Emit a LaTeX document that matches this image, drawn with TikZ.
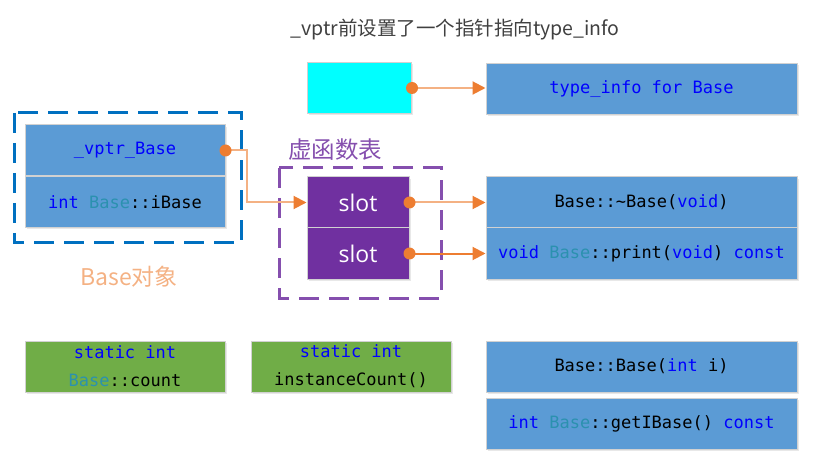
\documentclass[tikz,border=0pt]{standalone}
\usepackage{fontspec}
\setmainfont{Open Sans}
\setmonofont{DejaVu Sans Mono}
\newfontfamily\cjk{Noto Sans CJK SC}
\usetikzlibrary{arrows.meta}
\usetikzlibrary{shadows}

\definecolor{boxblue}{HTML}{5B9BD5}
\definecolor{boxgreen}{HTML}{70AD47}
\definecolor{boxcyan}{HTML}{00FFFF}
\definecolor{slotpurple}{HTML}{7030A0}
\definecolor{linkorange}{HTML}{ED7D31}
\definecolor{linkpeach}{HTML}{F4B183}
\definecolor{kwblue}{HTML}{0000FF}
\definecolor{clsteal}{HTML}{2B91AF}
\definecolor{frameblue}{HTML}{0070C0}

\newcommand{\kwd}[1]{\textcolor{kwblue}{#1}}
\newcommand{\clsname}[1]{\textcolor{clsteal}{#1}}

\begin{document}
\begin{tikzpicture}[x=1pt,y=-1pt]
	\tikzstyle{field} = [draw=black!18,line width=1pt,fill=boxblue,minimum width=200pt,minimum height=51pt,inner sep=0pt,align=center,font=\ttfamily\fontsize{17}{28}\selectfont,drop shadow={shadow xshift=1.5pt,shadow yshift=-2pt,opacity=0.18}]
	\tikzstyle{wide} = [field,minimum width=311pt]
	\tikzstyle{member} = [field,fill=boxgreen]
	\tikzstyle{slotbox} = [field,fill=slotpurple,minimum width=102pt,text=white,font=\fontsize{23}{28}\selectfont]
	\tikzstyle{link} = [line width=2pt,draw=linkpeach,-{Triangle[length=13pt,width=13pt,color=linkorange]}]
	\tikzstyle{dot} = [fill=linkorange]

	\useasboundingbox (0,0) rectangle (813,462);

	\node[text=black!75,font=\cjk\fontsize{19.5}{22}\selectfont] at (455,30) (title) {\_vptr前设置了一个指针指向type\_info};

	% type_info
	\node[field,fill=boxcyan,minimum width=104pt] at (359.5,88) (rtti) {};
	\node[wide] at (641.5,89) (typeinfo) {\kwd{type\_info for Base}};

	% Base object
	\node[field] at (125,150.5) (vptr) {\kwd{\_vptr\_Base}};
	\node[field] at (125,202) (ibase) {\kwd{int} \clsname{Base}::iBase};
	\draw[frameblue,line width=3pt,dash pattern=on 20pt off 10pt] (14,113) rectangle (241,243);
	\node[text=linkpeach,font=\cjk\fontsize{23}{24}\selectfont] at (129,277) (objlabel) {Base对象};

	% vtable
	\node[text=slotpurple!85,font=\cjk\fontsize{23.5}{24}\selectfont] at (335,150) (vtlabel) {虚函数表};
	\node[slotbox] at (358,202.5) (slot1) {slot};
	\node[slotbox] at (358,253.5) (slot2) {slot};
	\draw[slotpurple!85,line width=3pt,dash pattern=on 20pt off 10pt] (279,168) rectangle (441,298);

	% virtual functions
	\node[wide] at (641.5,202.5) (dtor) {Base::\textasciitilde Base(\kwd{void})};
	\node[wide] at (641.5,253.5) (print) {\kwd{void} \clsname{Base}::print(\kwd{void}) \kwd{const}};

	% static and non-virtual members
	\node[member] at (125,366.5) (count) {\kwd{static int}\\\clsname{Base}::count};
	\node[member] at (351,366.5) (icount) {\kwd{static int}\\instanceCount()};
	\node[wide] at (641.5,366.5) (ctor) {Base::Base(\kwd{int} i)};
	\node[wide] at (641.5,423.5) (getib) {\kwd{int} \clsname{Base}::getIBase() \kwd{const}};

	% links
	\draw[link] (rtti.east) -- (typeinfo.west |- rtti.east);
	\draw[link] (vptr.east) -- ++(21,0) |- (slot1.west);
	\draw[link] (slot1.east) -- (dtor.west);
	\draw[link,draw=linkorange] (slot2.east) -- (print.west);
	\fill[dot] (rtti.east) circle (6pt);
	\fill[dot] (vptr.east) circle (6pt);
	\fill[dot] (slot1.east) circle (6pt);
	\fill[dot] (slot2.east) circle (6pt);
\end{tikzpicture}
\end{document}
